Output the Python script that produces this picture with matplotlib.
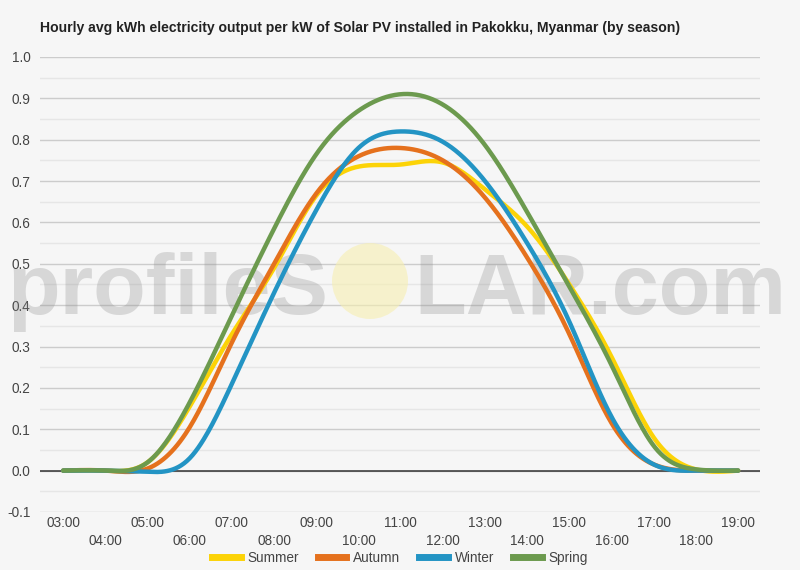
import numpy as np
import matplotlib
matplotlib.use("Agg")
from matplotlib import pyplot as plt
from matplotlib.lines import Line2D
from matplotlib.patches import Ellipse

plt.rcParams['font.family'] = ['Liberation Sans', 'DejaVu Sans']

##################################################
# Data

hours = [3, 4, 5, 6, 7, 8, 9, 10, 11, 12, 13, 14, 15, 16, 17, 18, 19]
hour_labels = ["%02d:00" % h for h in hours]

summer = [0, 0, 0.02, 0.155, 0.33, 0.49, 0.665, 0.735, 0.74, 0.745, 0.68, 0.59, 0.45, 0.275, 0.08, 0.003, 0]
autumn = [0, 0, 0.005, 0.105, 0.31, 0.50, 0.67, 0.76, 0.78, 0.75, 0.66, 0.515, 0.33, 0.115, 0.015, 0, 0]
winter = [0, 0, -0.003, 0.03, 0.21, 0.43, 0.63, 0.78, 0.82, 0.795, 0.70, 0.55, 0.36, 0.13, 0.015, 0, 0]
spring = [0, 0, 0.02, 0.165, 0.375, 0.585, 0.765, 0.87, 0.91, 0.885, 0.787, 0.625, 0.445, 0.255, 0.06, 0.003, 0]

series_names = ["Summer", "Autumn", "Winter", "Spring"]
series_colors = ["#fcd307", "#e5711d", "#2394c4", "#6c9a4e"]

title = "Hourly avg kWh electricity output per kW of Solar PV installed in Pakokku, Myanmar (by season)"


##################################################
# Smooth curve (natural cubic spline through the points)

def smooth(x, y, n=30):
	x = np.asarray(x, float)
	y = np.asarray(y, float)
	k = len(x)
	h = np.diff(x)
	A = np.zeros((k, k))
	b = np.zeros(k)
	A[0, 0] = 1
	A[-1, -1] = 1
	for i in range(1, k - 1):
		A[i, i - 1] = h[i - 1]
		A[i, i] = 2 * (h[i - 1] + h[i])
		A[i, i + 1] = h[i]
		b[i] = 6 * ((y[i + 1] - y[i]) / h[i] - (y[i] - y[i - 1]) / h[i - 1])
	M = np.linalg.solve(A, b)
	xs, ys = [], []
	for i in range(k - 1):
		t = np.linspace(0, 1, n, endpoint=False)
		hi = h[i]
		val = ((1 - t) * y[i] + t * y[i + 1]
			+ hi**2 / 6 * (((1 - t)**3 - (1 - t)) * M[i] + (t**3 - t) * M[i + 1]))
		xs.append(x[i] + t * hi)
		ys.append(val)
	xs.append([x[-1]])
	ys.append([y[-1]])
	return np.concatenate(xs), np.concatenate(ys)


##################################################
# Plot

fig = plt.figure(figsize=(8, 5.7), dpi=100, facecolor="#f6f6f6")
ax = fig.add_axes([0.05, 0.1018, 0.90, 0.7982])
ax.set_facecolor("#f6f6f6")

for name, vals, col in zip(series_names, [summer, autumn, winter, spring], series_colors):
	sx, sy = smooth(hours, vals)
	ax.plot(sx, sy, color=col, lw=3.2, solid_capstyle="round", zorder=3, label=name)

ax.set_xlim(2.45, 19.52)
ax.set_ylim(-0.1, 1.0)

ax.set_yticks(np.arange(-0.1, 1.01, 0.1))
ax.set_yticklabels(["%.1f" % v for v in np.arange(-0.1, 1.01, 0.1)])
ax.set_yticks(np.arange(-0.05, 1.0, 0.1), minor=True)
ax.grid(axis="y", which="major", color="#cccccc", lw=1, zorder=0)
ax.grid(axis="y", which="minor", color="#e6e6e6", lw=1, zorder=0)
ax.axhline(0, color="#333333", lw=1.1, zorder=2)

ax.set_xticks(hours)
labels = [lab if i % 2 == 0 else "\n" + lab for i, lab in enumerate(hour_labels)]
ax.set_xticklabels(labels)
for lab in ax.get_xticklabels():
	lab.set_linespacing(1.35)

ax.tick_params(axis="both", which="both", length=0, labelsize=9.8, labelcolor="#444444")
ax.tick_params(axis="y", pad=7)
ax.tick_params(axis="x", pad=3)
for s in ax.spines.values():
	s.set_visible(False)

# watermark
ax.text(328 / 800, 1 - 314 / 570, "profileS", transform=fig.transFigure, ha="right", va="baseline",
	fontsize=62, fontweight="bold", color="#888888", alpha=0.28, zorder=1.7)
ax.text(414 / 800, 1 - 314 / 570, "LAR.com", transform=fig.transFigure, ha="left", va="baseline",
	fontsize=61, fontweight="bold", color="#888888", alpha=0.28, zorder=1.7)
ax.add_patch(Ellipse((370 / 800, 1 - 281 / 570), 76 / 800, 76 / 570, transform=fig.transFigure,
	facecolor="#f7efb0", alpha=0.6, edgecolor="none", zorder=1.6))

fig.text(40 / 800, 1 - 28 / 570, title, fontsize=10.1, fontweight="bold", color="#222222", va="center")

handles = [Line2D([0], [0], color=c, lw=5) for c in series_colors]
fig.legend(handles, series_names, loc="center", bbox_to_anchor=(0.5, 1 - 558 / 570), ncol=4,
	frameon=False, fontsize=9.8, handlelength=2.1, columnspacing=1.4, handletextpad=0.5,
	labelcolor="#444444")

fig.savefig("out.png", dpi=100, facecolor=fig.get_facecolor())
